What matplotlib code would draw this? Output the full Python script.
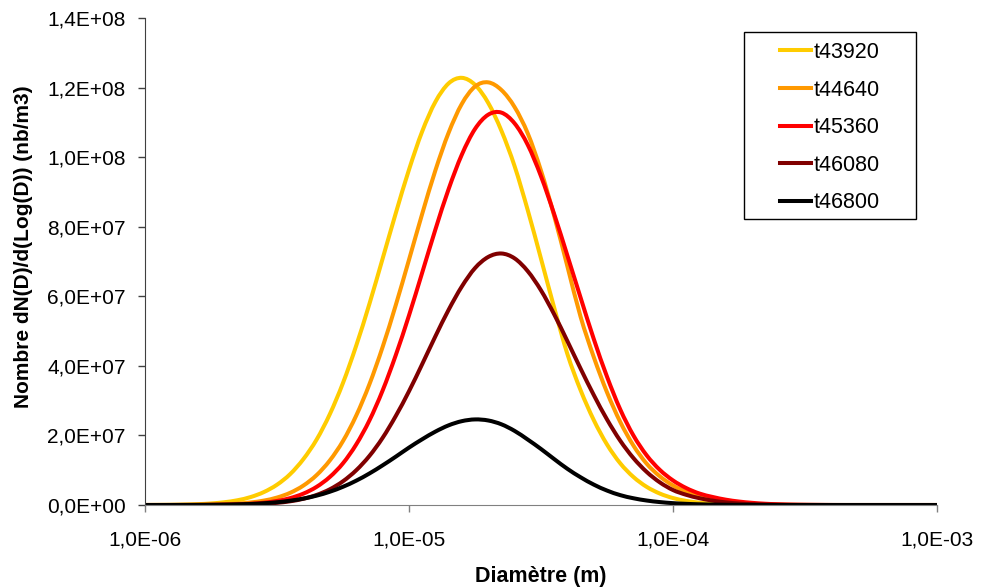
import numpy as np
import matplotlib
matplotlib.use("Agg")
import matplotlib.pyplot as plt
from matplotlib.ticker import FuncFormatter, NullLocator
from matplotlib.patches import Rectangle, PathPatch
from matplotlib.path import Path

plt.rcParams['font.family'] = ['Liberation Sans', 'DejaVu Sans']

# log10 of the diameter (m), one point every 0.05 decade from 1E-6 to 1E-3
log_diam = [-6.00, -5.95, -5.90, -5.85, -5.80, -5.75, -5.70, -5.65, -5.60, -5.55,
            -5.50, -5.45, -5.40, -5.35, -5.30, -5.25, -5.20, -5.15, -5.10, -5.05,
            -5.00, -4.95, -4.90, -4.85, -4.80, -4.75, -4.70, -4.65, -4.60, -4.55,
            -4.50, -4.45, -4.40, -4.35, -4.30, -4.25, -4.20, -4.15, -4.10, -4.05,
            -4.00, -3.95, -3.90, -3.85, -3.80, -3.75, -3.70, -3.65, -3.60, -3.55,
            -3.50, -3.45, -3.40, -3.35, -3.30, -3.25, -3.20, -3.15, -3.10, -3.05,
            -3.00]

# dN(D)/dlog(D) in millions per m3
t43920 = [0.01, 0.03, 0.06, 0.13, 0.24, 0.44, 0.79, 1.36, 2.28, 3.71,
          5.83, 8.89, 13.2, 18.8, 26.1, 35.1, 45.8, 57.8, 70.8, 83.9,
          96.4, 107.4, 115.9, 121.2, 122.8, 120.8, 115.6, 107.6, 97.4, 84.7,
          70.8, 56.7, 43.4, 33.0, 24.4, 17.4, 12.0, 8.06, 5.23, 3.29,
          2.00, 1.18, 0.67, 0.37, 0.20, 0.10, 0.05, 0.03, 0.01, 0,
          0, 0, 0, 0, 0, 0, 0, 0, 0, 0,
          0]
t44640 = [0, 0.01, 0.01, 0.03, 0.06, 0.11, 0.21, 0.40, 0.73, 1.26,
          2.14, 3.51, 5.59, 8.59, 12.8, 18.4, 25.7, 34.7, 45.4, 57.5,
          70.5, 83.7, 96.2, 107.0, 115.3, 120.3, 121.5, 119.3, 114.4, 106.8,
          96.1, 83.1, 68.6, 54.1, 42.5, 32.4, 23.9, 17.1, 11.9, 8.25,
          5.61, 3.74, 2.33, 1.41, 0.83, 0.47, 0.26, 0.14, 0.07, 0.04,
          0.02, 0.01, 0, 0, 0, 0, 0, 0, 0, 0,
          0]
t45360 = [0, 0, 0, 0.01, 0.02, 0.05, 0.10, 0.19, 0.36, 0.66,
          1.16, 1.98, 3.27, 5.22, 8.06, 12.0, 17.4, 24.3, 32.9, 43.1,
          54.5, 66.8, 79.2, 90.8, 100.7, 108.1, 112.2, 112.8, 109.7, 103.5,
          94.5, 83.6, 71.7, 59.6, 47.7, 36.9, 27.5, 20.0, 14.3, 10.1,
          7.06, 4.87, 3.30, 2.31, 1.53, 0.99, 0.62, 0.36, 0.20, 0.11,
          0.06, 0.03, 0.01, 0, 0, 0, 0, 0, 0, 0,
          0]
t46080 = [0, 0, 0, 0, 0.01, 0.02, 0.05, 0.10, 0.19, 0.35,
          0.62, 1.07, 1.79, 2.89, 4.51, 6.83, 9.98, 14.1, 19.3, 25.6,
          32.7, 40.5, 48.5, 56.1, 62.8, 68.1, 71.3, 72.3, 70.9, 67.2,
          61.7, 54.8, 47.1, 39.2, 31.6, 24.6, 18.5, 13.5, 9.53, 6.51,
          4.30, 2.93, 1.96, 1.26, 0.75, 0.43, 0.24, 0.13, 0.07, 0.03,
          0.02, 0.01, 0, 0, 0, 0, 0, 0, 0, 0,
          0]
t46800 = [0, 0, 0.01, 0.02, 0.03, 0.06, 0.10, 0.18, 0.30, 0.50,
          0.79, 1.23, 1.85, 2.69, 3.81, 5.24, 6.99, 9.06, 11.4, 13.9,
          16.5, 18.9, 21.1, 22.9, 24.1, 24.6, 24.3, 23.2, 21.3, 18.8,
          16.1, 13.2, 10.4, 7.97, 5.86, 4.15, 2.84, 1.94, 1.29, 0.84,
          0.53, 0.33, 0.20, 0.12, 0.07, 0.04, 0.02, 0.01, 0, 0,
          0, 0, 0, 0, 0, 0, 0, 0, 0, 0,
          0]

series = [("t43920", t43920, "#FFCC00"),
          ("t44640", t44640, "#FF9900"),
          ("t45360", t45360, "#FF0000"),
          ("t46080", t46080, "#800000"),
          ("t46800", t46800, "#000000")]


def smooth_path(u, y):
    # Excel-like "smoothed line": Catmull-Rom bezier through the points,
    # built in (log10 D, y) space, the axis transform does the rest
    u = np.asarray(u, float)
    y = np.asarray(y, float)
    p = np.column_stack([u, y])
    ext = np.vstack([p[0], p, p[-1]])
    verts = [p[0]]
    codes = [Path.MOVETO]
    for i in range(len(p) - 1):
        c1 = ext[i + 1] + (ext[i + 2] - ext[i]) / 6
        c2 = ext[i + 2] - (ext[i + 3] - ext[i + 1]) / 6
        verts += [c1, c2, p[i + 1]]
        codes += [Path.CURVE4] * 3
    verts = np.array(verts)
    verts[:, 0] = 10 ** verts[:, 0]
    return Path(verts, codes)


fig = plt.figure(figsize=(9.82, 5.88), dpi=100)
ax = fig.add_axes([145 / 982, 83 / 588, 792 / 982, 487 / 588])

for name, vals, col in series:
    ax.add_patch(PathPatch(smooth_path(log_diam, np.array(vals) * 1e6),
                           fill=False, edgecolor=col, lw=2.9,
                           capstyle='round', joinstyle='round'))
    ax.plot([], [], color=col, lw=2.9, label=name)

ax.set_xscale('log')
ax.set_xlim(1e-6, 1e-3)
ax.set_ylim(0, 1.4e8)
ax.set_yticks(np.arange(0, 1.41e8, 2e7))
ax.set_xticks([1e-6, 1e-5, 1e-4, 1e-3])
ax.xaxis.set_minor_locator(NullLocator())

ax.yaxis.set_major_formatter(FuncFormatter(lambda v, p: f"{v:.1E}".replace('.', ',')))
ax.xaxis.set_major_formatter(FuncFormatter(lambda v, p: f"{v:.1E}".replace('.', ',')))

for s in ['top', 'right']:
    ax.spines[s].set_visible(False)
ax.spines['left'].set_color('#404040')
ax.spines['bottom'].set_color('#808080')
ax.tick_params(axis='y', direction='out', length=5, width=1, color='#404040',
               labelsize=15, pad=9)
ax.tick_params(axis='x', direction='out', length=5, width=1, color='#808080',
               labelsize=15, pad=13.5)

ax.set_xlabel('Diamètre (m)', fontsize=15.5, fontweight='bold')
ax.set_ylabel('Nombre dN(D)/d(Log(D)) (nb/m3)', fontsize=15, fontweight='bold')
ax.xaxis.set_label_coords(0.5, -0.125)
ax.yaxis.set_label_coords(-0.142, 0.53)

leg = ax.legend(loc='upper left', bbox_to_anchor=(780 / 982, 1 - 42 / 588),
                bbox_transform=fig.transFigure, frameon=False, fontsize=15.5,
                handlelength=1.45, handletextpad=0.1, labelspacing=0.77,
                borderpad=0, borderaxespad=0)

fig.patches.append(Rectangle((744 / 982, 1 - 219 / 588), 172 / 982, 187 / 588,
                             transform=fig.transFigure, fill=False,
                             edgecolor='black', lw=1))

fig.savefig('out.png', dpi=100)
